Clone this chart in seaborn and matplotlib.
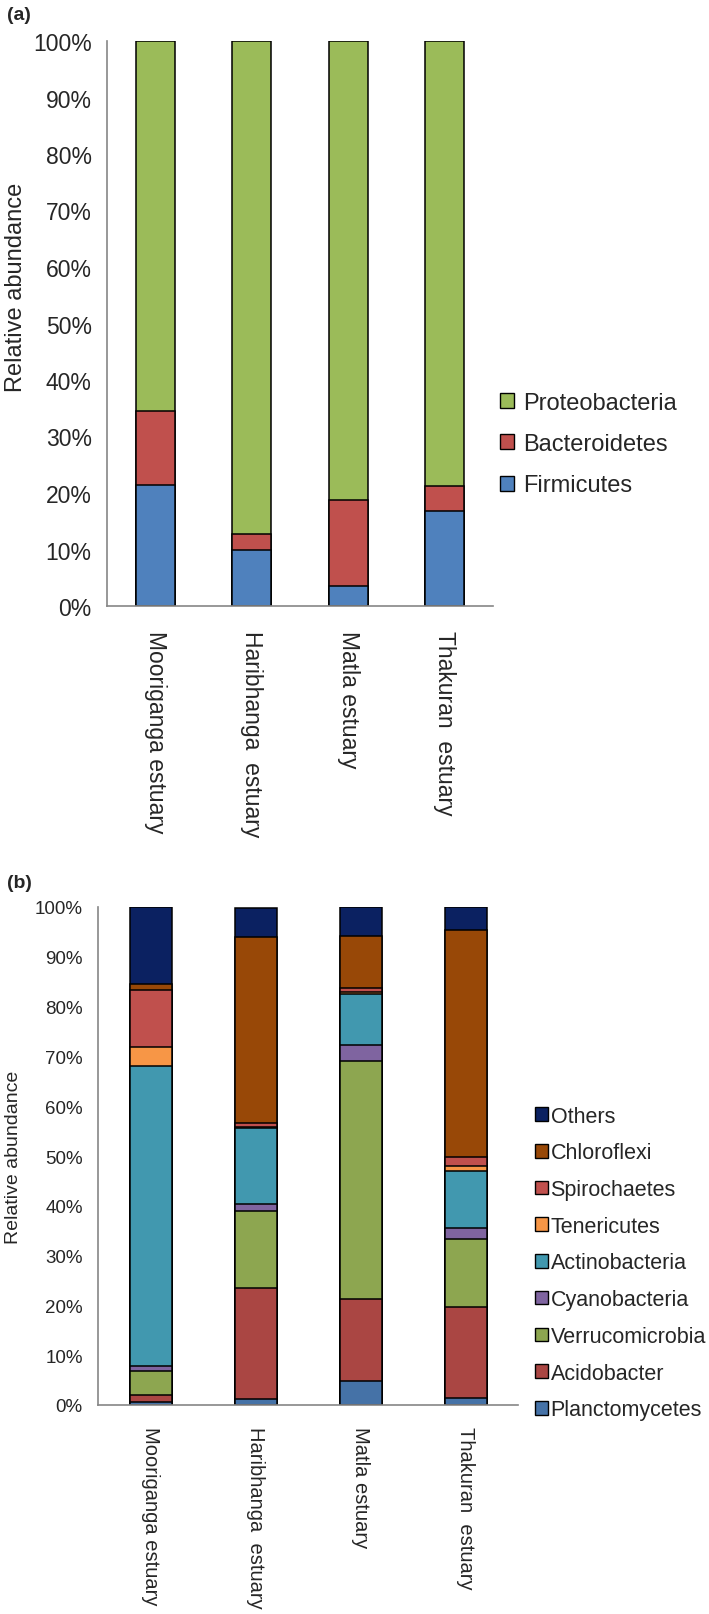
import numpy as np
import seaborn as sns
import matplotlib.pyplot as plt
from matplotlib.patches import Patch
from matplotlib.ticker import FixedLocator, PercentFormatter

# %% Data
sites_a = ['Mooriganga estuary', 'Haribhanga  estuary', 'Matla estuary', 'Thakuran  estuary']
sites_b = ['Mooriganga estuary', 'Haribhanga  estuary', 'Matla estuary', 'Thakuran  estuary']

# panel (a) phyla, listed top of stack -> bottom
phyla_a = ['Proteobacteria', 'Bacteroidetes', 'Firmicutes']
proteobacteria = [65.5, 87.2, 81.3, 78.7]
bacteroidetes = [13.0, 2.8, 15.2, 4.5]
firmicutes = [21.5, 10.0, 3.5, 16.8]
colors_a = ['#9BBB59', '#C0504D', '#4F81BD']

# panel (b) phyla, listed top of stack -> bottom
phyla_b = ['Others', 'Chloroflexi', 'Spirochaetes', 'Tenericutes', 'Actinobacteria',
           'Cyanobacteria', 'Verrucomicrobia', 'Acidobacter', 'Planctomycetes']
others = [15.4, 5.9, 5.9, 4.6]
chloroflexi = [1.2, 37.2, 10.4, 45.7]
spirochaetes = [11.6, 0.8, 0.8, 1.7]
tenericutes = [3.8, 0.3, 0.3, 1.0]
actinobacteria = [60.2, 15.3, 10.3, 11.5]
cyanobacteria = [1.0, 1.4, 3.2, 2.2]
verrucomicrobia = [4.8, 15.4, 47.9, 13.7]
acidobacter = [1.4, 22.2, 16.4, 18.1]
planctomycetes = [0.6, 1.3, 4.8, 1.5]
colors_b = ['#0B2161', '#984807', '#C0504D', '#F79646', '#4198AF',
            '#7F64A0', '#8DA650', '#AA4643', '#4572A7']

values_a = [proteobacteria, bacteroidetes, firmicutes]
values_b = [others, chloroflexi, spirochaetes, tenericutes, actinobacteria,
            cyanobacteria, verrucomicrobia, acidobacter, planctomycetes]

# %% Style
sns.set_style('white')
plt.rcParams['font.family'] = ['Liberation Sans', 'DejaVu Sans']
GREY = '#868686'


def stacked(ax, sites, phyla, values, colors):
    """Draw stacked bars by overlaying cumulative bars, top layer first."""
    arr = np.array(values)
    cum = arr[::-1].cumsum(axis=0)[::-1]  # cum[i] = sum of layers i..bottom
    for name, top, c in zip(phyla, cum, colors):
        sns.barplot(x=sites, y=top, color=c, width=0.4, saturation=1,
                    edgecolor='black', linewidth=1.1, ax=ax)
    ax.set_ylim(0, 100)
    ax.set_xlim(-0.5, len(sites) - 0.5)
    ax.yaxis.set_major_locator(FixedLocator(np.arange(0, 101, 10)))
    ax.yaxis.set_major_formatter(PercentFormatter(decimals=0))
    ax.xaxis.set_minor_locator(FixedLocator(np.arange(-0.5, len(sites), 1)))
    ax.tick_params(axis='x', which='major', length=0, pad=17)
    ax.tick_params(axis='x', which='minor', length=8, width=1.2, color=GREY, direction='out')
    ax.tick_params(axis='y', length=7, width=1.2, color=GREY, direction='out', pad=4)
    sns.despine(ax=ax)
    for s in ['left', 'bottom']:
        ax.spines[s].set_color(GREY)
        ax.spines[s].set_linewidth(1.2)
    ax.set_xlabel('')
    ax.set_ylabel('Relative abundance')
    for lab in ax.get_xticklabels():
        lab.set_rotation(-90)
        lab.set_va('top')
        lab.set_ha('center')
    return ax


fig = plt.figure(figsize=(7.09, 16.15), dpi=100)

# %% Panel (a)
ax_a = fig.add_axes([107 / 709, 1 - 607 / 1615, 386 / 709, 565 / 1615])
stacked(ax_a, sites_a, phyla_a, values_a, colors_a)
ax_a.tick_params(axis='y', labelsize=16.5)
ax_a.tick_params(axis='x', labelsize=16.5)
ax_a.yaxis.label.set_size(17)
ax_a.yaxis.set_label_coords(-0.208, 0.565)
handles_a = [Patch(facecolor=c, edgecolor='black', linewidth=1) for c in colors_a]
ax_a.legend(handles_a, phyla_a, loc='center left', bbox_to_anchor=(500 / 709, 1 - 445 / 1615),
            bbox_transform=fig.transFigure, frameon=False, fontsize=17,
            handlelength=0.6, handleheight=0.6, handletextpad=0.4,
            labelspacing=0.82, borderpad=0, borderaxespad=0)
fig.text(7 / 709, 1 - 16 / 1615, '(a)', fontsize=14, fontweight='bold', va='center', ha='left')

# %% Panel (b)
ax_b = fig.add_axes([98 / 709, 1 - 1406 / 1615, 420 / 709, 498 / 1615])
stacked(ax_b, sites_b, phyla_b, values_b, colors_b)
ax_b.tick_params(axis='y', labelsize=13.5)
ax_b.tick_params(axis='x', labelsize=14.5, pad=15)
ax_b.yaxis.label.set_size(14)
ax_b.yaxis.set_label_coords(-0.181, 0.5)
handles_b = [Patch(facecolor=c, edgecolor='black', linewidth=1) for c in colors_b]
ax_b.legend(handles_b, phyla_b, loc='center left', bbox_to_anchor=(535 / 709, 1 - 1264 / 1615),
            bbox_transform=fig.transFigure, frameon=False, fontsize=15.5,
            handlelength=0.6, handleheight=0.6, handletextpad=0.12,
            labelspacing=0.73, borderpad=0, borderaxespad=0)
fig.text(7 / 709, 1 - 884 / 1615, '(b)', fontsize=14, fontweight='bold', va='center', ha='left')

fig.savefig('out.png', dpi=100)
